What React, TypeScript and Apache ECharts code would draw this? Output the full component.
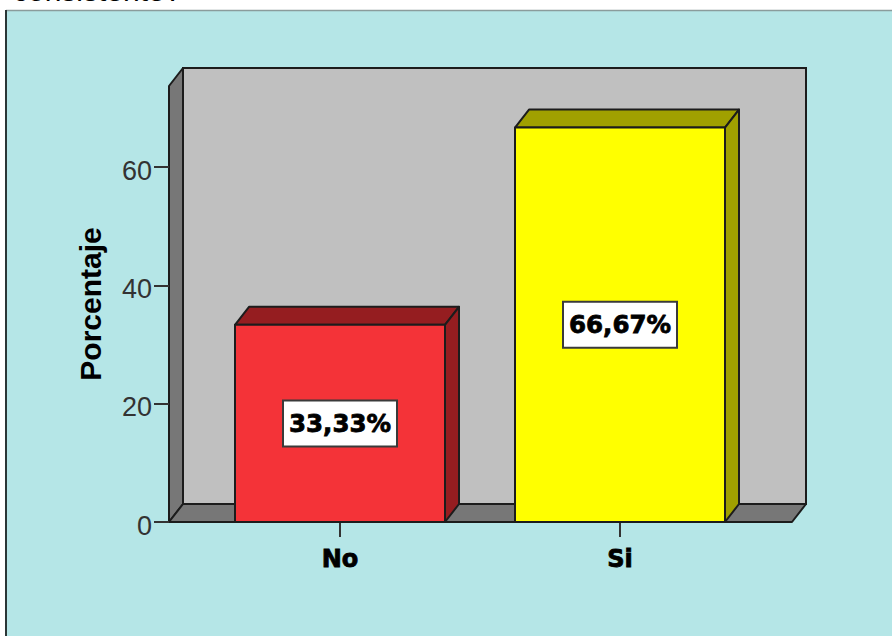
import React, { useEffect, useRef } from "react";
import * as echarts from "echarts";

const categories = ["No", "Si"];
const percentages = [33.33, 66.67];
const valueLabels = ["33,33%", "66,67%"];
const yTicks = [0, 20, 40, 60];
const yMax = 73.7;
const axisTitle = "Porcentaje";
const clippedCaption = "consistente?";
const barFills = ["#f43338", "#ffff00"];
const barShades = ["#951d20", "#a0a000"];

const DX = 14;
const DY = -18;
const LINE = "#1c1c1c";

export default function App() {
  const ref = useRef<HTMLDivElement>(null);
  useEffect(() => {
    const chart = echarts.init(ref.current!, undefined, { renderer: "svg" });
    const renderBar = (params: any, api: any) => {
      const i = api.value(0);
      const v = api.value(1);
      const w = api.size([1, 0])[0] * 0.75;
      const top = api.coord([i, v]);
      const base = api.coord([i, 0]);
      const mid = api.coord([i, v / 2]);
      const l = top[0] - w / 2;
      const r = top[0] + w / 2;
      const t = top[1];
      const b = base[1];
      const stroke = { stroke: LINE, lineWidth: 2, lineJoin: "round" };
      const boxW = 114;
      const boxH = 46;
      return {
        type: "group",
        children: [
          {
            type: "polygon",
            shape: { points: [[l, t], [l + DX, t + DY], [r + DX, t + DY], [r, t]] },
            style: { fill: barShades[i], ...stroke },
          },
          {
            type: "polygon",
            shape: { points: [[r, t], [r + DX, t + DY], [r + DX, b + DY], [r, b]] },
            style: { fill: barShades[i], ...stroke },
          },
          {
            type: "rect",
            shape: { x: l, y: t, width: w, height: b - t },
            style: { fill: barFills[i], ...stroke },
          },
          {
            type: "rect",
            shape: { x: mid[0] - boxW / 2, y: mid[1] - boxH / 2, width: boxW, height: boxH },
            style: { fill: "#ffffff", stroke: "#3a3a3a", lineWidth: 2 },
          },
          {
            type: "text",
            x: mid[0],
            y: mid[1],
            style: {
              text: valueLabels[i],
              fill: "#000000",
              font: "bold 24.5px 'DejaVu Sans'",
              align: "center",
              verticalAlign: "middle",
              stroke: "#000000",
              lineWidth: 0.8,
            },
          },
        ],
      };
    };
    chart.setOption({
      animation: false,
      backgroundColor: "#ffffff",
      graphic: {
        elements: [
          {
            type: "text",
            x: 13,
            y: 5,
            style: {
              text: clippedCaption,
              fill: "#000000",
              font: "30px 'Liberation Sans'",
              align: "left",
              verticalAlign: "bottom",
            },
          },
          {
            type: "rect",
            shape: { x: 6, y: 10, width: 900, height: 640 },
            style: { fill: "#b5e6e7" },
          },
          {
            type: "line",
            shape: { x1: 6, y1: 10.5, x2: 892, y2: 10.5 },
            style: { stroke: "#8a9c9c", lineWidth: 1.5 },
          },
          {
            type: "line",
            shape: { x1: 6, y1: 10, x2: 6, y2: 636 },
            style: { stroke: "#2a3636", lineWidth: 2 },
          },
          {
            type: "rect",
            shape: { x: 183, y: 68, width: 623, height: 436 },
            style: { fill: "#c0c0c0", stroke: LINE, lineWidth: 2 },
          },
          {
            type: "polygon",
            shape: { points: [[169, 86], [183, 68], [183, 504], [169, 522]] },
            style: { fill: "#777777", stroke: LINE, lineWidth: 2, lineJoin: "round" },
          },
          {
            type: "polygon",
            shape: { points: [[169, 522], [183, 504], [806, 504], [792, 522]] },
            style: { fill: "#777777", stroke: LINE, lineWidth: 2, lineJoin: "round" },
          },
        ],
      },
      grid: { left: 200, width: 560, top: 86, height: 436 },
      xAxis: {
        type: "category",
        data: categories,
        axisLine: { show: false },
        axisTick: { show: true, length: 15, alignWithLabel: true, interval: 0, lineStyle: { color: "#333", width: 2 } },
        axisLabel: {
          show: true,
          interval: 0,
          margin: 25,
          color: "#000",
          fontFamily: "DejaVu Sans",
          fontWeight: "bold",
          fontSize: 24,
          textBorderColor: "#000",
          textBorderWidth: 0.8,
        },
        splitLine: { show: false },
      },
      yAxis: {
        type: "value",
        min: 0,
        max: yMax,
        offset: 31,
        name: axisTitle,
        nameLocation: "middle",
        nameGap: 64,
        nameTextStyle: { color: "#000", fontFamily: "Liberation Sans", fontWeight: "bold", fontSize: 30 },
        axisLine: { show: false },
        axisTick: { show: true, length: 15, customValues: yTicks, lineStyle: { color: "#333", width: 2 } },
        axisLabel: {
          show: true,
          margin: 17,
          customValues: yTicks,
          color: "#333",
          fontFamily: "Liberation Sans",
          fontSize: 27,
          verticalAlign: "top",
          lineHeight: 7,
        },
        splitLine: { show: false },
      },
      series: [
        {
          type: "custom",
          renderItem: renderBar,
          clip: false,
          data: percentages.map((p, i) => [i, p]),
          encode: { x: 0, y: 1 },
          silent: true,
        },
      ],
    });
    return () => chart.dispose();
  }, []);
  return <div ref={ref} style={{ position: "fixed", left: 0, top: 0, width: 892, height: 636 }} />;
}
